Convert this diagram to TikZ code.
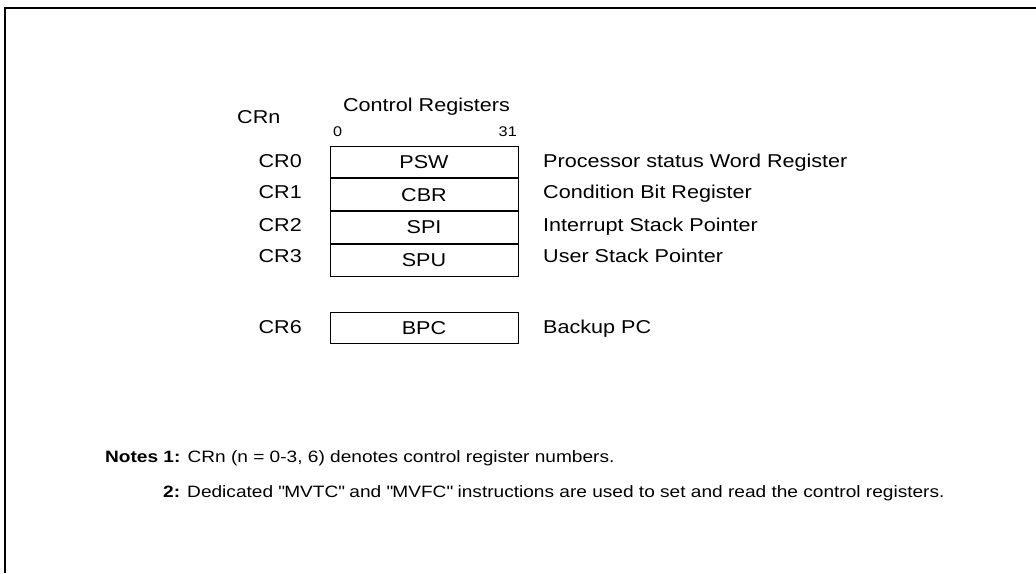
\documentclass[tikz,border=0pt]{standalone}
\usepackage{fontspec}
\setmainfont{Liberation Sans}[FakeStretch=1.16]
\begin{document}
\begin{tikzpicture}[x=1pt,y=-1pt,
  lbl/.style={inner sep=0pt,font=\fontsize{18.6}{22}\selectfont},
  bitno/.style={inner sep=0pt,font=\fontsize{14}{17}\selectfont},
  note/.style={inner sep=0pt,font=\fontsize{16.45}{19}\selectfont},
  reg/.style={draw,line width=1pt,minimum width=188pt,minimum height=31.75pt,
    inner sep=0pt,font=\fontsize{18.6}{22}\selectfont},
  frame/.style={line width=2pt}]
\useasboundingbox (0,0) rectangle (1036,573);

% open frame: top and left edges
\coordinate (fl) at (5,573);
\coordinate (fc) at (5,7.5);
\coordinate (fr) at (1036,7.5);
\draw[frame] (fl) -- (fc) -- (fr);

% column headings
\node[lbl,anchor=base west] (crn) at (237,123) {CRn};
\node[lbl,anchor=base] (title) at (426.5,111) {Control Registers};
\node[bitno,anchor=base west] (b0) at (333,136) {0};
\node[bitno,anchor=base east] (b31) at (517,136) {31};

% register stack
\node[reg] (psw) at (424,161.9) {PSW};
\node[reg,anchor=north] (cbr) at (psw.south) {CBR};
\node[reg,anchor=north] (spi) at (cbr.south) {SPI};
\node[reg,anchor=north] (spu) at (spi.south) {SPU};
\node[reg] (bpc) at (424,328) {BPC};

% register numbers
\node[lbl,anchor=base east] (cr0) at (302,167) {CR0};
\node[lbl,anchor=base east] (cr1) at (302,198) {CR1};
\node[lbl,anchor=base east] (cr2) at (302,231) {CR2};
\node[lbl,anchor=base east] (cr3) at (302,262) {CR3};
\node[lbl,anchor=base east] (cr6) at (302,333) {CR6};

% register descriptions
\node[lbl,anchor=base west] (d0) at (543,167) {Processor status Word Register};
\node[lbl,anchor=base west] (d1) at (543,198) {Condition Bit Register};
\node[lbl,anchor=base west] (d2) at (543,231) {Interrupt Stack Pointer};
\node[lbl,anchor=base west] (d3) at (543,262) {User Stack Pointer};
\node[lbl,anchor=base west] (d6) at (543,333) {Backup PC};

% notes
\node[note,anchor=base west] (n1) at (105,462)
  {\textbf{Notes 1:} CRn (n = 0-3, 6) denotes control register numbers.};
\node[note,anchor=base west] (n2) at (163,497)
  {\textbf{2:} Dedicated \textquotedbl MVTC\textquotedbl{} and \textquotedbl MVFC\textquotedbl{} instructions are used to set and read the control registers.};
\end{tikzpicture}
\end{document}
